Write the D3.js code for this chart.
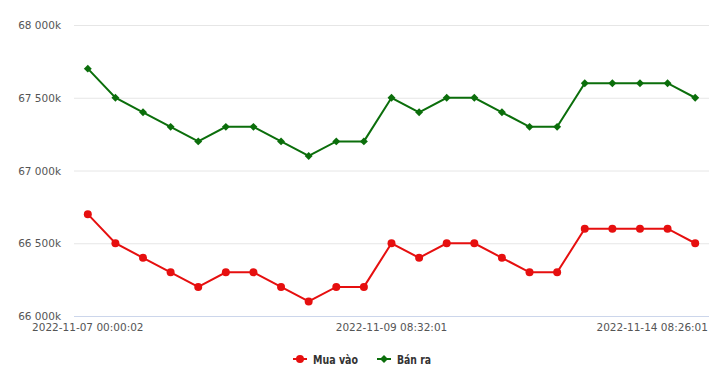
<!DOCTYPE html>
<html><head><meta charset="utf-8">
<script src="https://cdn.jsdelivr.net/npm/d3@7"></script>
<style>body{margin:0;background:#fff;} text{font-family:"DejaVu Sans",Verdana,sans-serif;}</style>
</head><body><svg id="c" width="720" height="381"></svg>
<script>
const categories = ["2022-11-07 00:00:02","p1","p2","p3","p4","p5","p6","p7","p8","p9","p10","2022-11-09 08:32:01","p12","p13","p14","p15","p16","p17","p18","p19","p20","p21","2022-11-14 08:26:01"];
const muaVao = [66700,66500,66400,66300,66200,66300,66300,66200,66100,66200,66200,66500,66400,66500,66500,66400,66300,66300,66600,66600,66600,66600,66500];
const banRa  = [67700,67500,67400,67300,67200,67300,67300,67200,67100,67200,67200,67500,67400,67500,67500,67400,67300,67300,67600,67600,67600,67600,67500];
const yTicks = [66000,66500,67000,67500,68000];
const xTickIdx = [0,11,22];
const seriesNames = ["Mua vào","Bán ra"];

const svg = d3.select("#c");
const L=74,R=709,T=25,B=316;
const x = d3.scalePoint().domain(d3.range(categories.length)).range([L,R]).padding(0.5);
const y = d3.scaleLinear().domain([66000,68000]).range([B,T]);
const fmt = v => d3.format(",")(v).replace(/,/g," ")+"k";

// grid
svg.append("g").selectAll("line").data(yTicks.filter(v=>v!==66000)).join("line")
 .attr("x1",L).attr("x2",R).attr("y1",d=>y(d)+0.5).attr("y2",d=>y(d)+0.5).attr("stroke","#e6e6e6");
svg.append("line").attr("x1",L).attr("x2",R).attr("y1",B+0.5).attr("y2",B+0.5).attr("stroke","#ccd6eb");
svg.append("g").selectAll("text").data(yTicks).join("text")
 .attr("x",61).attr("y",d=>y(d)+4).attr("text-anchor","end").attr("font-size",10.5).attr("fill","#555").text(fmt);

// x labels
const xl = svg.append("g").selectAll("text").data(xTickIdx).join("text")
 .attr("x",d=>x(d)).attr("y",331).attr("text-anchor","middle").attr("font-size",10.5).attr("fill","#555").text(d=>categories[d]);
xl.each(function(){const bb=this.getBBox(); if(bb.x+bb.width>708){d3.select(this).attr("x",+d3.select(this).attr("x")-(bb.x+bb.width-708));}});

const line = d3.line().x((d,i)=>x(i)).y(d=>y(d));
const series=[{v:muaVao,c:"#e60f0f",m:"circle"},{v:banRa,c:"#0b6e0b",m:"diamond"}];
series.forEach(s=>{
  svg.append("path").attr("d",line(s.v)).attr("fill","none").attr("stroke",s.c).attr("stroke-width",2);
  const sym=d3.symbol().type(s.m==="circle"?d3.symbolCircle:d3.symbolDiamond2).size(s.m==="circle"?50:40);
  svg.append("g").selectAll("path").data(s.v).join("path")
   .attr("transform",(d,i)=>`translate(${x(i)},${y(d)})`).attr("d",sym()).attr("fill",s.c);
});

// legend
const lg=svg.append("g");
const items=[{n:seriesNames[0],c:series[0].c,m:d3.symbolCircle,s:50,x:293,w:45},{n:seriesNames[1],c:series[1].c,m:d3.symbolDiamond2,s:40,x:377,w:34}];
items.forEach(it=>{
  lg.append("line").attr("x1",it.x).attr("x2",it.x+14).attr("y1",359).attr("y2",359).attr("stroke",it.c).attr("stroke-width",2);
  lg.append("path").attr("d",d3.symbol().type(it.m).size(it.s)()).attr("transform",`translate(${it.x+7},359)`).attr("fill",it.c);
  lg.append("text").attr("x",it.x+20).attr("y",363.5).attr("font-size",12.5).attr("font-weight","bold").attr("fill","#333")
    .attr("textLength",it.w).attr("lengthAdjust","spacingAndGlyphs").text(it.n);
});
</script></body></html>
